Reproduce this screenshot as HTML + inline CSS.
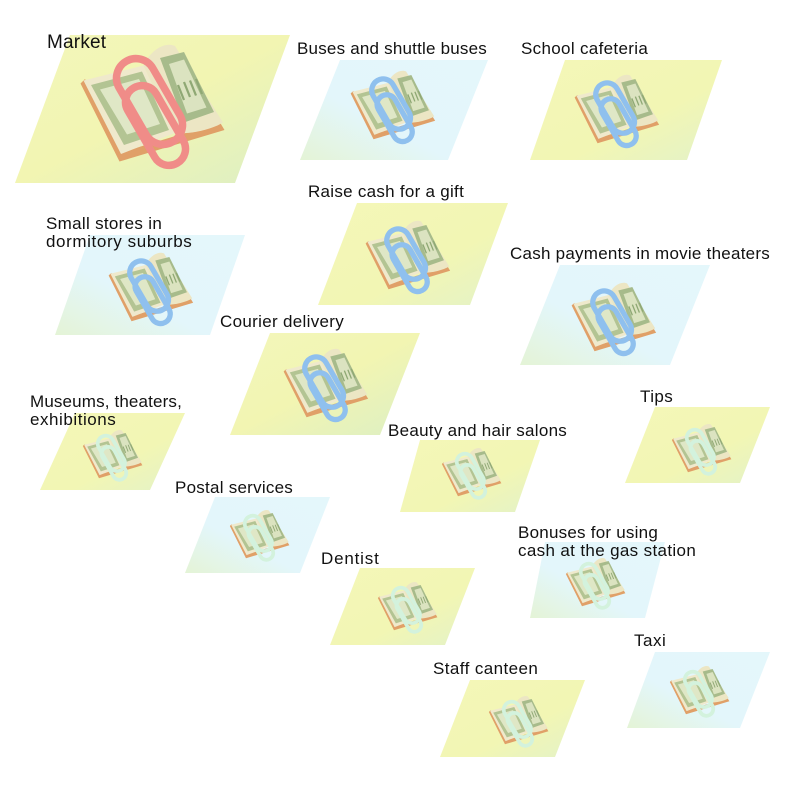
<!DOCTYPE html>
<html><head><meta charset="utf-8"><style>
html,body{margin:0;padding:0;background:#fff;}
svg{display:block}
text{font-family:"Liberation Sans",sans-serif;fill:#111;font-size:17px;letter-spacing:0.2px}
</style></head><body>
<svg width="800" height="800" viewBox="0 0 800 800" xmlns="http://www.w3.org/2000/svg">
<defs>
<linearGradient id="gy" x1="0" y1="0" x2="1" y2="1">
<stop offset="0" stop-color="#f4f7b8"/><stop offset="0.6" stop-color="#f2f6b4"/><stop offset="1" stop-color="#e3f2c8"/></linearGradient>
<linearGradient id="gb" x1="1" y1="0" x2="0" y2="1">
<stop offset="0" stop-color="#e4f7fb"/><stop offset="0.6" stop-color="#e3f6fb"/><stop offset="1" stop-color="#e4f4d6"/></linearGradient>
<linearGradient id="gm" x1="1" y1="1" x2="0" y2="0">
<stop offset="0" stop-color="#dcefc4"/><stop offset="0.5" stop-color="#f2f5b2"/><stop offset="1" stop-color="#f3f6bb"/></linearGradient>
<g id="bills">
<polygon points="3,29 29,81 99,60 96,55 30,75 6,26" fill="#e0a068"/>
<polygon points="5,27 45,17 66,62 30,76" fill="#efe9cc"/>
<polygon points="10,30 44,21 62,60 32,70" fill="#b3c493"/>
<polygon points="16,33 42,26 56,56 34,63" fill="#dfe7c6"/>
<path d="M45,17 C50,6 60,1 66,4 L98,55 C90,60 75,63 66,62 Z" fill="#ece6c4"/>
<path d="M56,12 L72,8 L92,48 L72,55 Z" fill="#a7bb8b"/>
<path d="M62,16 L72,13 L87,45 L74,49 Z" fill="#dbe3c0"/>
<path d="M68,30 l4,10 M72,28 l4,10 M76,27 l4,10 M80,26 l4,10" stroke="#8fa874" stroke-width="1.5"/>
</g>
</defs>

<polygon points="70,35 290,35 235,183 15,183" fill="url(#gm)"/>
<polygon points="340,60 488,60 448,160 300,160" fill="url(#gb)"/>
<polygon points="565,60 722,60 687,160 530,160" fill="url(#gy)"/>
<polygon points="357,203 508,203 470,305 318,305" fill="url(#gy)"/>
<polygon points="90,235 245,235 210,335 55,335" fill="url(#gb)"/>
<polygon points="560,265 710,265 670,365 520,365" fill="url(#gb)"/>
<polygon points="270,333 420,333 380,435 230,435" fill="url(#gm)"/>
<polygon points="75,413 185,413 150,490 40,490" fill="url(#gy)"/>
<polygon points="420,440 540,440 515,512 400,512" fill="url(#gy)"/>
<polygon points="655,407 770,407 740,483 625,483" fill="url(#gy)"/>
<polygon points="215,497 330,497 300,573 185,573" fill="url(#gb)"/>
<polygon points="545,542 665,542 645,618 530,618" fill="url(#gb)"/>
<polygon points="360,568 475,568 445,645 330,645" fill="url(#gy)"/>
<polygon points="655,652 770,652 740,728 627,728" fill="url(#gb)"/>
<polygon points="470,680 585,680 555,757 440,757" fill="url(#gy)"/>

<g id="clipdef" style="display:none"></g>

<g transform="translate(76,40) scale(1.5)"><use href="#bills"/>
<g fill="none" stroke="#f08c88" stroke-width="5"><rect x="36" y="10" width="26" height="62" rx="13" transform="rotate(-30 49 41)"/><rect x="42" y="28" width="22" height="58" rx="11" transform="rotate(-30 53 57)"/></g></g>

<g transform="translate(348,68) scale(0.88)"><use href="#bills"/><g fill="none" stroke="#8fc0ee" stroke-width="6"><rect x="36" y="10" width="26" height="62" rx="13" transform="rotate(-30 49 41)"/><rect x="42" y="28" width="22" height="58" rx="11" transform="rotate(-30 53 57)"/></g></g>
<g transform="translate(572,72) scale(0.88)"><use href="#bills"/><g fill="none" stroke="#8fc0ee" stroke-width="6"><rect x="36" y="10" width="26" height="62" rx="13" transform="rotate(-30 49 41)"/><rect x="42" y="28" width="22" height="58" rx="11" transform="rotate(-30 53 57)"/></g></g>
<g transform="translate(363,218) scale(0.88)"><use href="#bills"/><g fill="none" stroke="#8fc0ee" stroke-width="6"><rect x="36" y="10" width="26" height="62" rx="13" transform="rotate(-30 49 41)"/><rect x="42" y="28" width="22" height="58" rx="11" transform="rotate(-30 53 57)"/></g></g>
<g transform="translate(106,250) scale(0.88)"><use href="#bills"/><g fill="none" stroke="#8fc0ee" stroke-width="6"><rect x="36" y="10" width="26" height="62" rx="13" transform="rotate(-30 49 41)"/><rect x="42" y="28" width="22" height="58" rx="11" transform="rotate(-30 53 57)"/></g></g>
<g transform="translate(569,280) scale(0.88)"><use href="#bills"/><g fill="none" stroke="#8fc0ee" stroke-width="6"><rect x="36" y="10" width="26" height="62" rx="13" transform="rotate(-30 49 41)"/><rect x="42" y="28" width="22" height="58" rx="11" transform="rotate(-30 53 57)"/></g></g>
<g transform="translate(281,346) scale(0.88)"><use href="#bills"/><g fill="none" stroke="#8fc0ee" stroke-width="6"><rect x="36" y="10" width="26" height="62" rx="13" transform="rotate(-30 49 41)"/><rect x="42" y="28" width="22" height="58" rx="11" transform="rotate(-30 53 57)"/></g></g>

<g transform="translate(81,428) scale(0.62)"><use href="#bills"/><g fill="none" stroke="#d3f2dd" stroke-width="6"><rect x="36" y="10" width="26" height="62" rx="13" transform="rotate(-30 49 41)"/><rect x="42" y="28" width="22" height="58" rx="11" transform="rotate(-30 53 57)"/></g></g>
<g transform="translate(440,446) scale(0.62)"><use href="#bills"/><g fill="none" stroke="#d3f2dd" stroke-width="6"><rect x="36" y="10" width="26" height="62" rx="13" transform="rotate(-30 49 41)"/><rect x="42" y="28" width="22" height="58" rx="11" transform="rotate(-30 53 57)"/></g></g>
<g transform="translate(670,422) scale(0.62)"><use href="#bills"/><g fill="none" stroke="#d3f2dd" stroke-width="6"><rect x="36" y="10" width="26" height="62" rx="13" transform="rotate(-30 49 41)"/><rect x="42" y="28" width="22" height="58" rx="11" transform="rotate(-30 53 57)"/></g></g>
<g transform="translate(228,508) scale(0.62)"><use href="#bills"/><g fill="none" stroke="#d3f2dd" stroke-width="6"><rect x="36" y="10" width="26" height="62" rx="13" transform="rotate(-30 49 41)"/><rect x="42" y="28" width="22" height="58" rx="11" transform="rotate(-30 53 57)"/></g></g>
<g transform="translate(564,556) scale(0.62)"><use href="#bills"/><g fill="none" stroke="#d3f2dd" stroke-width="6"><rect x="36" y="10" width="26" height="62" rx="13" transform="rotate(-30 49 41)"/><rect x="42" y="28" width="22" height="58" rx="11" transform="rotate(-30 53 57)"/></g></g>
<g transform="translate(376,580) scale(0.62)"><use href="#bills"/><g fill="none" stroke="#d3f2dd" stroke-width="6"><rect x="36" y="10" width="26" height="62" rx="13" transform="rotate(-30 49 41)"/><rect x="42" y="28" width="22" height="58" rx="11" transform="rotate(-30 53 57)"/></g></g>
<g transform="translate(668,664) scale(0.62)"><use href="#bills"/><g fill="none" stroke="#d3f2dd" stroke-width="6"><rect x="36" y="10" width="26" height="62" rx="13" transform="rotate(-30 49 41)"/><rect x="42" y="28" width="22" height="58" rx="11" transform="rotate(-30 53 57)"/></g></g>
<g transform="translate(487,694) scale(0.62)"><use href="#bills"/><g fill="none" stroke="#d3f2dd" stroke-width="6"><rect x="36" y="10" width="26" height="62" rx="13" transform="rotate(-30 49 41)"/><rect x="42" y="28" width="22" height="58" rx="11" transform="rotate(-30 53 57)"/></g></g>

<text x="47" y="48" style="font-size:19px">Market</text>
<text x="297" y="54" textLength="190">Buses and shuttle buses</text>
<text x="521" y="54" textLength="127">School cafeteria</text>
<text x="308" y="197" textLength="156">Raise cash for a gift</text>
<text x="46" y="229" textLength="116">Small stores in</text>
<text x="46" y="247" textLength="146">dormitory suburbs</text>
<text x="510" y="259" textLength="260">Cash payments in movie theaters</text>
<text x="220" y="327" textLength="124">Courier delivery</text>
<text x="30" y="407" textLength="152">Museums, theaters,</text>
<text x="30" y="425" textLength="86">exhibitions</text>
<text x="640" y="402" textLength="33">Tips</text>
<text x="388" y="436" textLength="179">Beauty and hair salons</text>
<text x="175" y="493" textLength="118">Postal services</text>
<text x="518" y="538" textLength="140">Bonuses for using</text>
<text x="518" y="556" textLength="178">cash at the gas station</text>
<text x="321" y="564" textLength="58">Dentist</text>
<text x="634" y="646" textLength="32">Taxi</text>
<text x="433" y="674" textLength="105">Staff canteen</text>
</svg>
</body></html>
